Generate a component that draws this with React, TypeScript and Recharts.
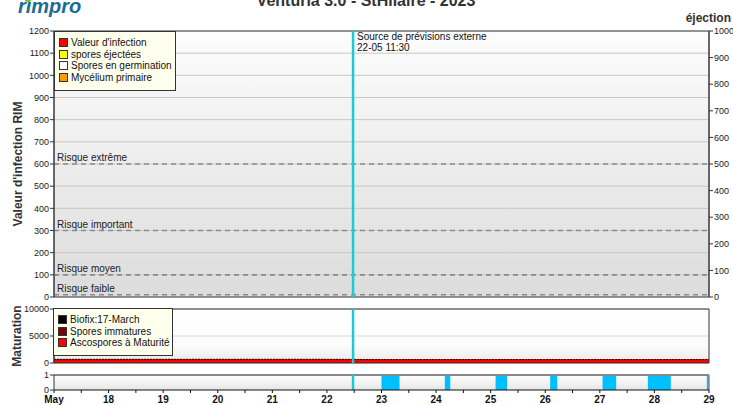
import React from 'react';
import {
  ComposedChart,
  Area,
  Line,
  XAxis,
  YAxis,
  CartesianGrid,
  ReferenceLine,
  ReferenceArea,
} from 'recharts';

// ---------- data ----------
const days = [17, 18, 19, 20, 21, 22, 23, 24, 25, 26, 27, 28, 29];
const dayLabels = ['May', '18', '19', '20', '21', '22', '23', '24', '25', '26', '27', '28', '29'];
const infectionValues = [0, 0, 0, 0, 0, 0, 0, 0, 0, 0, 0, 0, 0];
const ejectedSpores = [0, 0, 0, 0, 0, 0, 0, 0, 0, 0, 0, 0, 0];
const immatureSpores = [90, 80, 70, 70, 60, 60, 40, 40, 40, 40, 40, 40, 40];
const matureSpores = [600, 610, 620, 620, 630, 630, 600, 600, 600, 600, 600, 600, 600];

const riskNames = ['Risque extrême', 'Risque important', 'Risque moyen', 'Risque faible'];
const riskValues = [600, 300, 100, 10];

const leftTicksTop = [0, 100, 200, 300, 400, 500, 600, 700, 800, 900, 1000, 1100, 1200];
const rightTicksTop = [0, 100, 200, 300, 400, 500, 600, 700, 800, 900, 1000];
const maturationTicks = [0, 5000, 10000];
const wetTicks = [0, 1];
const xTicks = [17, 17.5, 18, 18.5, 19, 19.5, 20, 20.5, 21, 21.5, 22, 22.5, 23, 23.5, 24, 24.5, 25, 25.5, 26, 26.5, 27, 27.5, 28, 28.5, 29];

const forecastTime = 22.479;
const forecastLines = ['Source de prévisions externe', '22-05 11:30'];

const wetStart = [23.0, 24.16, 25.09, 26.09, 27.05, 27.88, 28.96];
const wetEnd = [23.33, 24.26, 25.3, 26.22, 27.3, 28.3, 29.0];

const topLegendNames = ["Valeur d'infection", 'spores éjectées', 'Spores en germination', 'Mycélium primaire'];
const topLegendColors = ['#ff0000', '#ffff00', '#ffffff', '#ff9900'];
const midLegendNames = ['Biofix:17-March', 'Spores immatures', 'Ascospores à Maturité'];
const midLegendColors = ['#000000', '#800000', '#ff0000'];

const title = 'Venturia 3.0 - StHilaire - 2023';

// ---------- derived tables ----------
const topData = days.map((d, i) => ({ t: d, infection: infectionValues[i], ejected: ejectedSpores[i] }));
const midData = days.map((d, i) => ({ t: d, mature: matureSpores[i], immature: immatureSpores[i] }));
const wetData: { t: number; wet: number }[] = [{ t: 17, wet: 0 }];
wetStart.forEach((s, i) => {
  wetData.push({ t: s, wet: 1 });
  wetData.push({ t: wetEnd[i], wet: 0 });
});

const FONT = '"Liberation Sans", Arial, sans-serif';
const W = 733;
const tickStyle = { fontSize: 9, fill: '#222', fontFamily: FONT };
const CYAN = '#1fc8d6';

function LegendBox({ names, colors, left, top, width, height }: any) {
  return (
    <div
      style={{
        position: 'absolute',
        left,
        top,
        width,
        height,
        boxSizing: 'border-box',
        background: '#ffffee',
        border: '1px solid #333',
        fontFamily: FONT,
        fontSize: 10,
        color: '#111',
        padding: '5px 0 0 4px',
        lineHeight: '11.5px',
      }}
    >
      {names.map((n: string, i: number) => (
        <div key={n} style={{ display: 'flex', alignItems: 'center', whiteSpace: 'nowrap' }}>
          <span
            style={{
              display: 'inline-block',
              width: 7,
              height: 7,
              background: colors[i],
              border: '1px solid #333',
              marginRight: 3,
            }}
          />
          {n}
        </div>
      ))}
    </div>
  );
}

const forecastLabel = (props: any) => {
  const vb = props.viewBox || {};
  return (
    <text x={vb.x + 4} y={vb.y + 9} fontSize={10} fill="#111" fontFamily={FONT}>
      <tspan x={vb.x + 4} dy={0}>{forecastLines[0]}</tspan>
      <tspan x={vb.x + 4} dy={11}>{forecastLines[1]}</tspan>
    </text>
  );
};

const XTick = (props: any) => {
  const { x, y, payload } = props;
  const v = payload.value;
  const idx = days.indexOf(v);
  if (idx < 0) return null;
  return (
    <text x={x} y={y + 8} textAnchor="middle" fontSize={10} fontWeight="bold" fill="#111" fontFamily={FONT}>
      {dayLabels[idx]}
    </text>
  );
};

export default function App() {
  return (
    <div style={{ position: 'absolute', left: 0, top: 0, width: W, height: 405, background: '#fff', overflow: 'hidden' }}>
      <svg width={0} height={0} style={{ position: 'absolute' }}>
        <defs>
          <linearGradient id="gradTop" x1="0" y1="0" x2="0" y2="1">
            <stop offset="0%" stopColor="#fdfdfd" />
            <stop offset="100%" stopColor="#dcdcdc" />
          </linearGradient>
          <linearGradient id="gradMid" x1="0" y1="0" x2="0" y2="1">
            <stop offset="0%" stopColor="#ffffff" />
            <stop offset="70%" stopColor="#fbfbfb" />
            <stop offset="100%" stopColor="#e8e8e8" />
          </linearGradient>
          <linearGradient id="gradBot" x1="0" y1="0" x2="0" y2="1">
            <stop offset="0%" stopColor="#ffffff" />
            <stop offset="100%" stopColor="#e6e6e6" />
          </linearGradient>
        </defs>
      </svg>

      <svg width={W} height={30} style={{ position: 'absolute', left: 0, top: 0 }}>
        <text x={18} y={13} fontSize={20} fontWeight="bold" fontStyle="italic" fill="#1c6c96" fontFamily={FONT}>
          rimpro
        </text>
        <ellipse cx={28} cy={0.5} rx={3} ry={1.5} fill="#7cc242" />
        <text x={366} y={6} textAnchor="middle" fontSize={16} fontWeight="bold" fill="#333" fontFamily={FONT}>
          {title}
        </text>
        <text x={731} y={22} textAnchor="end" fontSize={12} fontWeight="bold" fill="#333" fontFamily={FONT}>
          éjection
        </text>
      </svg>

      {/* Top panel */}
      <div style={{ position: 'absolute', left: 0, top: 0 }}>
        <ComposedChart width={W} height={304} data={topData} margin={{ top: 31, right: 0, bottom: 7, left: 0 }}>
          <CartesianGrid vertical={false} stroke="#c8c8c8" fill="url(#gradTop)" yAxisId="left" />
          <XAxis dataKey="t" type="number" domain={[17, 29]} hide />
          <YAxis
            yAxisId="left"
            width={54}
            domain={[0, 1200]}
            ticks={leftTicksTop}
            interval={0}
            tick={tickStyle}
            tickSize={4}
            tickMargin={1}
            stroke="#333"
            label={{ value: "Valeur d'infection RIM", angle: -90, position: 'center', dx: -9, fontSize: 12, fontWeight: 'bold', fill: '#333', fontFamily: FONT }}
          />
          <YAxis
            yAxisId="right"
            orientation="right"
            width={24}
            domain={[0, 1000]}
            ticks={rightTicksTop}
            interval={0}
            tick={tickStyle}
            tickSize={4}
            tickMargin={1}
            stroke="#333"
          />
          <Area yAxisId="left" dataKey="infection" stroke="none" fill="#ff0000" isAnimationActive={false} />
          <Line yAxisId="right" dataKey="ejected" stroke="#ffff00" strokeWidth={0} dot={false} isAnimationActive={false} />
          {riskValues.map((v, i) => (
            <ReferenceLine
              key={riskNames[i]}
              yAxisId="left"
              y={v}
              stroke="#8a8a8a"
              strokeWidth={1.6}
              strokeDasharray="5 4"
              label={{ value: riskNames[i], position: 'insideBottomLeft', offset: 3, fontSize: 10, fill: '#222', fontFamily: FONT }}
            />
          ))}
          <ReferenceArea yAxisId="left" x1={17} x2={29} y1={0} y2={1200} fill="none" stroke="#444" strokeWidth={1} />
          <ReferenceLine yAxisId="left" x={forecastTime} stroke={CYAN} strokeWidth={2.5} label={forecastLabel} />
        </ComposedChart>
      </div>

      {/* Maturation panel */}
      <div style={{ position: 'absolute', left: 0, top: 302 }}>
        <ComposedChart width={W} height={66} data={midData} margin={{ top: 7, right: 24, bottom: 5, left: 0 }}>
          <CartesianGrid vertical={false} stroke="#d8d8d8" fill="url(#gradMid)" />
          <XAxis dataKey="t" type="number" domain={[17, 29]} hide />
          <YAxis
            width={54}
            domain={[0, 10000]}
            ticks={maturationTicks}
            interval={0}
            tick={tickStyle}
            tickSize={4}
            tickMargin={1}
            stroke="#333"
            label={{ value: 'Maturation', angle: -90, position: 'center', dx: -10, fontSize: 12, fontWeight: 'bold', fill: '#333', fontFamily: FONT }}
          />
          <Area dataKey="mature" stackId="m" type="linear" stroke="#cc0000" strokeWidth={1} fill="#ff0000" fillOpacity={1} isAnimationActive={false} />
          <Area dataKey="immature" stackId="m" type="linear" stroke="#400000" strokeWidth={1} strokeDasharray="2 1" fill="#800000" fillOpacity={1} isAnimationActive={false} />
          <ReferenceArea x1={17} x2={29} y1={0} y2={10000} fill="none" stroke="#333" strokeWidth={1} />
          <ReferenceLine x={forecastTime} stroke={CYAN} strokeWidth={2.5} />
        </ComposedChart>
      </div>

      {/* Wetness panel */}
      <div style={{ position: 'absolute', left: 0, top: 366 }}>
        <ComposedChart width={W} height={39} data={wetData} margin={{ top: 9, right: 24, bottom: 0, left: 0 }}>
          <CartesianGrid vertical={false} horizontal={false} fill="url(#gradBot)" />
          <XAxis
            dataKey="t"
            type="number"
            domain={[17, 29]}
            ticks={xTicks}
            interval={0}
            height={15}
            tick={<XTick />}
            tickSize={3}
            stroke="#111"
          />
          <YAxis
            width={54}
            domain={[0, 1]}
            ticks={wetTicks}
            interval={0}
            tick={tickStyle}
            tickSize={4}
            tickMargin={1}
            stroke="#333"
          />
          <Area dataKey="wet" type="stepAfter" stroke="none" fill="#00bfff" fillOpacity={1} isAnimationActive={false} />
          <ReferenceLine y={1} stroke="#888" strokeWidth={2} />
          <ReferenceLine x={29} stroke="#888" strokeWidth={1.5} />
          <ReferenceLine x={forecastTime} stroke={CYAN} strokeWidth={2.5} />
        </ComposedChart>
      </div>

      <LegendBox names={topLegendNames} colors={topLegendColors} left={54} top={31} width={122} height={60} />
      <LegendBox names={midLegendNames} colors={midLegendColors} left={53} top={308} width={120} height={48} />
    </div>
  );
}
